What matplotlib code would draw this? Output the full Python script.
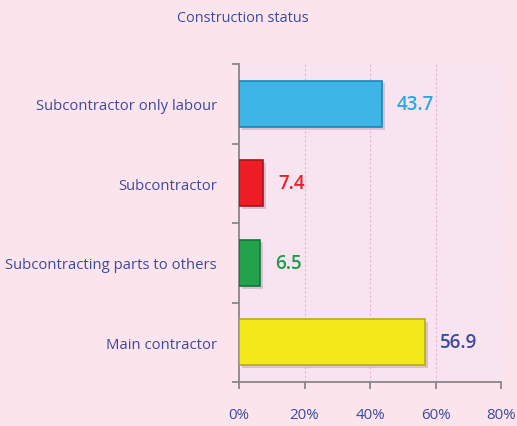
import matplotlib
matplotlib.use("Agg")
import matplotlib.pyplot as plt
import matplotlib.patheffects as pe

categories = ["Main contractor", "Subcontracting parts to others", "Subcontractor", "Subcontractor only labour"]
values = [56.9, 6.5, 7.4, 43.7]
bar_colors = ["#F2E81A", "#22A24A", "#EE1C25", "#3DB5E6"]
edge_colors = ["#B8AE10", "#16743A", "#A8141B", "#1A86B8"]
label_colors = ["#3A4A9E", "#1E9A48", "#E8202A", "#2AA8E0"]
xticks = [0, 20, 40, 60, 80]
xticklabels = ["0%", "20%", "40%", "60%", "80%"]
title = "Construction status"

plt.rcParams['font.family'] = ['Open Sans', 'DejaVu Sans']
fig = plt.figure(figsize=(5.17, 4.27), dpi=100, facecolor="#FCE4EC")
ax = fig.add_axes([239/517, 1-383/427, (501-239)/517, (383-65)/427])
ax.set_facecolor("#F8E4F0")

ypos = list(range(len(categories)))
bars = ax.barh(ypos, values, height=0.58, color=bar_colors, edgecolor=edge_colors, linewidth=1.2, zorder=3)
for b in bars:
    b.set_path_effects([pe.SimplePatchShadow(offset=(2, -2), shadow_rgbFace="#C8A8C0", alpha=0.6), pe.Normal()])

for y, v, c in zip(ypos, values, label_colors):
    ax.text(v + 4.5, y, f"{v}", va="center", ha="left", fontsize=13.5, fontweight="semibold", color=c, zorder=4)

ax.set_xlim(0, 80)
ax.set_ylim(-0.5, len(categories) - 0.5)
ax.set_xticks(xticks)
ax.set_xticklabels(xticklabels, color="#3A4A9E", fontsize=10.8)
ax.set_yticks(ypos)
ax.set_yticklabels(categories, color="#3A4A9E", fontsize=10.7)
ax.set_yticks([y - 0.5 for y in ypos] + [len(categories) - 0.5], minor=True)
ax.tick_params(axis="y", which="major", length=0, pad=16)
ax.tick_params(axis="y", which="minor", length=5, color="#888888", width=1.3, direction="out")
ax.tick_params(axis="x", length=5, color="#888888", width=1.3, pad=13)

for x in xticks[1:]:
    ax.axvline(x, color="#E8B0D4", linestyle=(0, (2, 2)), linewidth=0.8, zorder=1)

for s in ["top", "right"]:
    ax.spines[s].set_visible(False)
for s in ["left", "bottom"]:
    ax.spines[s].set_color("#888888")
    ax.spines[s].set_linewidth(1.3)

fig.text(243/517, 1-18/427, title, ha="center", va="center", fontsize=10.4, color="#3A4A9E")

fig.savefig("out.png", dpi=100, facecolor=fig.get_facecolor())
